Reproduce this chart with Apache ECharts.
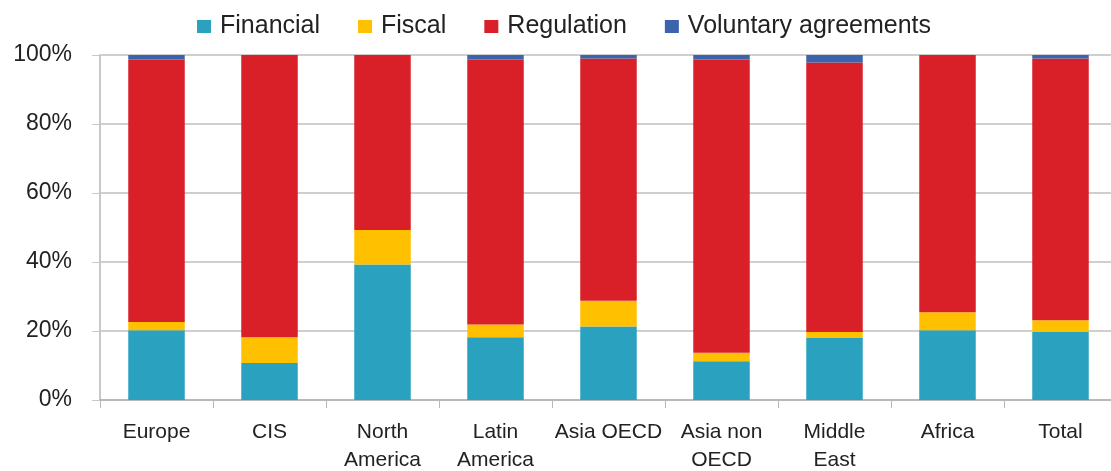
<!DOCTYPE html>
<html>
<head>
<meta charset="utf-8">
<script src="https://cdn.jsdelivr.net/npm/echarts@6/dist/echarts.min.js"></script>
<style>
  html, body { margin: 0; padding: 0; background: #fff; }
  #chart { width: 1111px; height: 471px; }
</style>
</head>
<body>
<div id="chart"></div>
<script>
const regions = ["Europe", "CIS", "North\nAmerica", "Latin\nAmerica", "Asia OECD", "Asia non\nOECD", "Middle\nEast", "Africa", "Total"];
const financial = [20.2, 10.7, 39.3, 18.2, 21.3, 11.2, 18.0, 20.2, 19.7];
const fiscal = [2.4, 7.5, 10.0, 3.7, 7.5, 2.5, 1.7, 5.2, 3.4];
const voluntary = [1.3, 0, 0, 1.3, 1.0, 1.3, 2.2, 0, 1.0];
const regulation = regions.map((r, i) => +(100 - financial[i] - fiscal[i] - voluntary[i]).toFixed(1));
const yTicks = [0, 20, 40, 60, 80, 100];

const font = "Liberation Sans";
const chart = echarts.init(document.getElementById("chart"));

const bar = (name, data, color) => ({
  name, type: "bar", stack: "all", data, barWidth: "50%",
  itemStyle: { color }
});

chart.setOption({
  animation: false,
  legend: {
    top: 9, left: 192,
    itemWidth: 14, itemHeight: 13, itemGap: 38,
    icon: "rect",
    textStyle: { fontFamily: font, fontSize: 25, color: "#222", padding: [0, 0, 0, 4] },
    data: ["Financial", "Fiscal", "Regulation", "Voluntary agreements"]
  },
  grid: { left: 100, right: -6, top: 55, bottom: 71, outerBoundsMode: "none", containLabel: false },
  xAxis: {
    type: "category",
    data: regions,
    axisLine: { lineStyle: { color: "#b8b8b8", width: 2 } },
    axisTick: { show: true, interval: 0, length: 8, lineStyle: { color: "#b8b8b8" } },
    axisLabel: { interval: 0, fontFamily: font, fontSize: 21, color: "#222", lineHeight: 28, margin: 18 }
  },
  yAxis: {
    type: "value", min: 0, max: 100, interval: 20,
    axisLine: { show: true, lineStyle: { color: "#c8c8c8", width: 2 } },
    axisTick: { show: true, length: 8, lineStyle: { color: "#c8c8c8" } },
    splitLine: { lineStyle: { color: "#cfcfcf", width: 2 } },
    axisLabel: {
      fontFamily: font, fontSize: 23, color: "#222", margin: 28,
      formatter: v => yTicks.includes(v) ? v + "%" : ""
    }
  },
  series: [
    bar("Financial", financial, "#2aa1be"),
    bar("Fiscal", fiscal, "#ffc000"),
    bar("Regulation", regulation, "#d91f27"),
    bar("Voluntary agreements", voluntary, "#3b64ad")
  ]
});
</script>
</body>
</html>
